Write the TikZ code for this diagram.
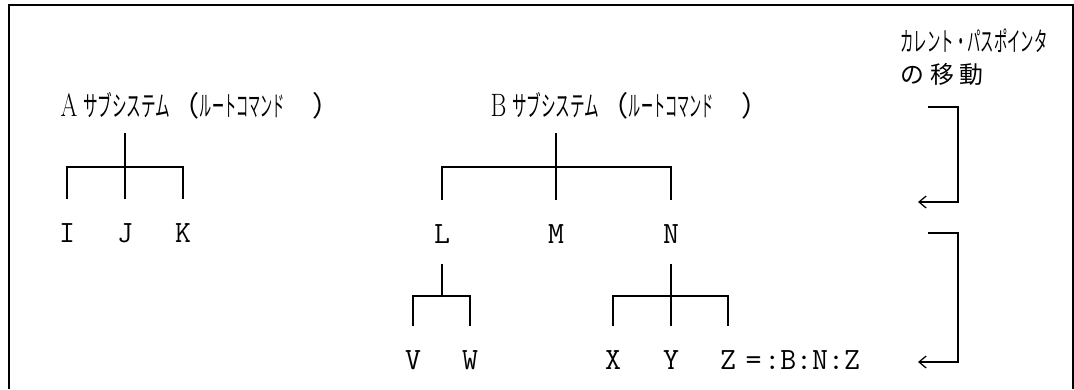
\documentclass[tikz,border=0pt]{standalone}
\usepackage{fontspec}
\usepackage{graphicx}
\usetikzlibrary{arrows.meta}
\newfontfamily\jp{Noto Sans CJK JP}
\newcommand{\leafsize}{\fontsize{22}{24}\selectfont}
\newcommand{\jpsize}{\fontsize{20}{22}\selectfont}
\newcommand{\hw}[2][0.5]{\scalebox{#1}[1]{#2}}
\newcommand{\subsys}[1]{\hw[0.75]{\rmfamily\fontsize{23}{24}\selectfont #1}\hspace{4pt}\hw[0.52]{サブシステム}\hspace{1pt}（\hw[0.43]{ルートコマンド}\hspace{20pt}）}

\begin{document}
\begin{tikzpicture}[x = 0.025cm, y = -0.025cm, line width = 0.9pt,
  leaf/.style = {font = \ttfamily\leafsize, inner sep = 0pt},
  title/.style = {font = \jp\jpsize, anchor = west, inner sep = 0pt},
  fork/.style = {shorten <= 0.6cm, shorten >= 0.6cm},
  down/.style = {shorten >= 0.6cm},
  move/.style = {-{Straight Barb[length = 1.8mm, width = 3mm]}}]
\useasboundingbox (0,0) rectangle (1074,389);
\draw[line width = 1.2pt] (9,389) -- (9,5) -- (1073,5) -- (1073,389);
% A subsystem
\node[title] (ta) at (60,106) {\subsys{A}};
\node[leaf] (I) at (67,233) {I};
\node[leaf] (J) at (125,233) {J};
\node[leaf] (K) at (183,233) {K};
\coordinate (aroot) at (125,133);
\coordinate (abar) at (125,167);
\draw[down] (aroot) -- (J);
\draw[fork] (I) |- (abar) -| (K);
% B subsystem
\node[title] (tb) at (490,106) {\subsys{B}};
\node[leaf] (L) at (442,234) {L};
\node[leaf] (M) at (556,234) {M};
\node[leaf] (N) at (671,234) {N};
\coordinate (broot) at (556,133);
\coordinate (bbar) at (556,167);
\draw[down] (broot) -- (M);
\draw[fork] (L) |- (bbar) -| (N);
% below L
\node[leaf] (V) at (413,360) {V};
\node[leaf] (W) at (470,360) {W};
\coordinate (lbar) at (442,296);
\draw[shorten <= 0.5cm] (L) -- (lbar);
\draw[fork] (V) |- (lbar) -| (W);
% below N
\node[leaf] (X) at (613,360) {X};
\node[leaf] (Y) at (671,360) {Y};
\node[leaf] (Z) at (728,360) {Z};
\coordinate (nbar) at (671,296);
\draw[shorten <= 0.5cm, down] (N) -- (Y);
\draw[fork] (X) |- (nbar) -| (Z);
\node[leaf, anchor = west] (path) at (745,360) {=\hspace{2pt}:B:N:Z};
% current path pointer
\node[title, font = \jp\fontsize{19}{22}\selectfont] (cur) at (900,41) {\hw{カレント・パスポインタ}};
\node[title, font = \jp\fontsize{17}{20}\selectfont] (mv) at (900,74) {の\hspace{4pt}移\hspace{4pt}動};
\coordinate (m1a) at (928,107);
\coordinate (m1b) at (918,202);
\draw[move] (m1a) -- ++(30,0) |- (m1b);
\coordinate (m2a) at (928,233);
\coordinate (m2b) at (918,362);
\draw[move] (m2a) -- ++(30,0) |- (m2b);
\end{tikzpicture}
\end{document}
